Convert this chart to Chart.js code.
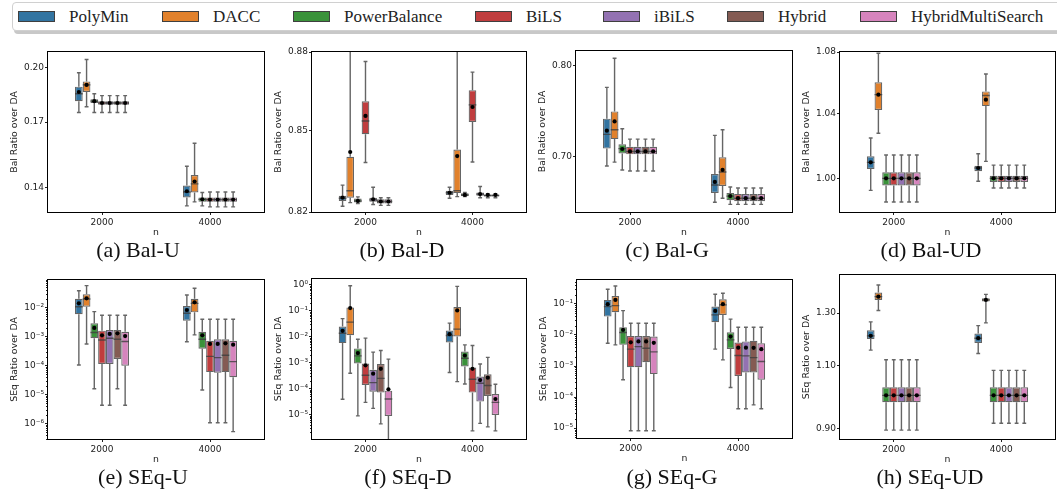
<!DOCTYPE html>
<html>
<head>
<meta charset="utf-8">
<script src="https://cdn.jsdelivr.net/npm/chart.js@4.4.0/dist/chart.umd.min.js"></script>
<style>
  body { margin: 0; width: 1057px; height: 496px; background: #fff; position: relative; overflow: hidden; font-family: "Liberation Serif", serif; }
  .leg { position: absolute; left: 12px; top: 2px; width: 1060px; height: 27px; border: 1px solid #d0d0d0; border-radius: 4px; box-shadow: 2px 3px 0 #c8c8c8; background: #fff; }
  .item { position: absolute; top: 0; height: 27px; display: flex; align-items: center; font-size: 17px; color: #222; white-space: nowrap; }
  .sw { width: 35px; height: 9px; border: 1px solid #3f3f3f; margin-right: 14px; }
  .cap { position: absolute; width: 200px; text-align: center; font-size: 22px; line-height: 22px; color: #111; }
  canvas { position: absolute; }
</style>
</head>
<body>
<div class="leg" id="legend"></div>

<script>
const categories = ['2000', '4000'];
const methods = ['PolyMin', 'DACC', 'PowerBalance', 'BiLS', 'iBiLS', 'Hybrid', 'HybridMultiSearch'];
const colors = ['#3274a1', '#e1812c', '#3a923a', '#c03d3e', '#9372b2', '#845b53', '#d684bd'];

// one row per method: [lo, q1, median, q3, hi, mean] at n=2000, then at n=4000
const balU = [
  [[0.175, 0.181, 0.185, 0.189, 0.197, 0.186], [0.1324, 0.1358, 0.1380, 0.1407, 0.149, 0.1383]],
  [[0.178, 0.186, 0.190, 0.192, 0.205, 0.190], [0.134, 0.1378, 0.1414, 0.1452, 0.1596, 0.1424]],
  [[0.175, 0.180, 0.181, 0.182, 0.185, 0.181], [0.1324, 0.134, 0.135, 0.1358, 0.1378, 0.135]],
  [[0.175, 0.179, 0.180, 0.181, 0.184, 0.180], [0.132, 0.134, 0.1349, 0.1358, 0.138, 0.1349]],
  [[0.175, 0.179, 0.180, 0.181, 0.184, 0.180], [0.132, 0.134, 0.1349, 0.1358, 0.138, 0.1349]],
  [[0.175, 0.179, 0.180, 0.181, 0.184, 0.180], [0.132, 0.134, 0.1349, 0.1358, 0.138, 0.1349]],
  [[0.175, 0.179, 0.180, 0.181, 0.184, 0.180], [0.132, 0.134, 0.1349, 0.1358, 0.138, 0.1349]]
];
const balD = [
  [[0.8221, 0.8240, 0.8250, 0.8259, 0.8298, 0.8252], [0.8250, 0.8262, 0.8270, 0.8277, 0.8290, 0.8270]],
  [[0.8234, 0.8252, 0.8277, 0.8402, 0.95, 0.8420], [0.8256, 0.8269, 0.8277, 0.8429, 0.95, 0.8405]],
  [[0.8231, 0.8234, 0.8240, 0.8249, 0.8255, 0.8240], [0.8256, 0.8257, 0.8262, 0.8268, 0.8271, 0.8262]],
  [[0.8381, 0.8486, 0.8536, 0.8611, 0.8763, 0.8555], [0.8383, 0.8532, 0.8597, 0.8653, 0.8722, 0.8589]],
  [[0.8227, 0.8237, 0.8244, 0.8252, 0.8290, 0.8246], [0.8252, 0.8259, 0.8265, 0.8271, 0.8293, 0.8265]],
  [[0.8224, 0.8231, 0.8238, 0.8246, 0.8252, 0.8238], [0.8252, 0.8256, 0.8260, 0.8264, 0.8266, 0.8262]],
  [[0.8224, 0.8231, 0.8238, 0.8246, 0.8252, 0.8238], [0.8252, 0.8256, 0.8260, 0.8264, 0.8266, 0.8262]]
];
const balG = [
  [[0.690, 0.708, 0.723, 0.740, 0.775, 0.727], [0.654, 0.663, 0.671, 0.682, 0.722, 0.674]],
  [[0.694, 0.718, 0.728, 0.748, 0.809, 0.737], [0.658, 0.670, 0.684, 0.699, 0.728, 0.686]],
  [[0.686, 0.703, 0.708, 0.7125, 0.729, 0.7076], [0.652, 0.656, 0.660, 0.663, 0.669, 0.660]],
  [[0.685, 0.702, 0.705, 0.710, 0.718, 0.705], [0.652, 0.655, 0.658, 0.662, 0.668, 0.658]],
  [[0.685, 0.702, 0.705, 0.710, 0.718, 0.705], [0.652, 0.655, 0.658, 0.662, 0.668, 0.658]],
  [[0.685, 0.702, 0.705, 0.710, 0.718, 0.705], [0.652, 0.655, 0.658, 0.662, 0.668, 0.658]],
  [[0.685, 0.702, 0.705, 0.710, 0.718, 0.705], [0.652, 0.655, 0.658, 0.662, 0.668, 0.658]]
];
const balUD = [
  [[0.9927, 1.0057, 1.0098, 1.0135, 1.0249, 1.0098], [0.9982, 1.0043, 1.0063, 1.0077, 1.0151, 1.0063]],
  [[1.0278, 1.0425, 1.0523, 1.0602, 1.0792, 1.0523], [1.0104, 1.0450, 1.0518, 1.0544, 1.0656, 1.0491]],
  [[0.9857, 0.9957, 1.0, 1.0037, 1.0143, 1.0], [0.9941, 0.9978, 1.0, 1.0016, 1.0081, 1.0]],
  [[0.9857, 0.9957, 1.0, 1.0037, 1.0143, 1.0], [0.9941, 0.9978, 1.0, 1.0016, 1.0081, 1.0]],
  [[0.9857, 0.9957, 1.0, 1.0037, 1.0143, 1.0], [0.9941, 0.9978, 1.0, 1.0016, 1.0081, 1.0]],
  [[0.9857, 0.9957, 1.0, 1.0037, 1.0143, 1.0], [0.9941, 0.9978, 1.0, 1.0016, 1.0081, 1.0]],
  [[0.9857, 0.9957, 1.0, 1.0037, 1.0143, 1.0], [0.9941, 0.9978, 1.0, 1.0016, 1.0081, 1.0]]
];
const seqU = [
  [[1.05e-4, 5.9e-3, 1.07e-2, 2.04e-2, 3.85e-2, 1.41e-2], [6.7e-4, 3.56e-3, 6.4e-3, 1.14e-2, 2.74e-2, 8.3e-3]],
  [[5.6e-4, 1.08e-2, 2.0e-2, 2.88e-2, 5.74e-2, 2.1e-2], [1.15e-3, 6.9e-3, 1.41e-2, 2.04e-2, 4.65e-2, 1.53e-2]],
  [[1.6e-5, 8.8e-4, 1.4e-3, 2.9e-3, 7.3e-3, 2.0e-3], [1.45e-5, 3.85e-4, 8.1e-4, 1.48e-3, 4.0e-3, 1.11e-3]],
  [[4.3e-6, 1.15e-4, 7.7e-4, 1.61e-3, 5.5e-3, 1.11e-3], [1.07e-6, 6.0e-5, 2.1e-4, 7.2e-4, 4.0e-3, 5.6e-4]],
  [[4.3e-6, 1.15e-4, 8.8e-4, 1.7e-3, 5.5e-3, 1.24e-3], [1.07e-6, 5.75e-5, 1.9e-4, 8.1e-4, 4.0e-3, 5.6e-4]],
  [[1.6e-5, 1.7e-4, 8.1e-4, 1.7e-3, 5.5e-3, 1.3e-3], [1.07e-6, 6.0e-5, 2.3e-4, 8.1e-4, 4.0e-3, 5.9e-4]],
  [[4.3e-6, 1.0e-4, 6.8e-4, 1.48e-3, 5.5e-3, 1.05e-3], [5.3e-7, 4.0e-5, 1.38e-4, 7.2e-4, 4.0e-3, 5.3e-4]]
];
const seqD = [
  [[3.8e-5, 5.6e-3, 1.35e-2, 2.45e-2, 4.9e-2, 1.66e-2], [4.1e-4, 5.9e-3, 1.1e-2, 1.72e-2, 3.3e-2, 1.24e-2]],
  [[3.85e-4, 1.13e-2, 3.6e-2, 1.33e-1, 9.1e-1, 1.26e-1], [1.83e-4, 1.0e-2, 1.93e-2, 1.37e-1, 8.6e-1, 1.02e-1]],
  [[8.7e-6, 9.1e-4, 1.8e-3, 3.5e-3, 7.9e-3, 2.3e-3], [1.48e-4, 7.0e-4, 1.46e-3, 2.65e-3, 4.8e-3, 1.86e-3]],
  [[2.9e-5, 1.36e-4, 3.2e-4, 9.1e-4, 8.7e-3, 7.8e-4], [2.3e-6, 6.9e-5, 2.25e-4, 6.4e-4, 4.5e-3, 5.7e-4]],
  [[1.7e-5, 7.5e-5, 1.67e-4, 5.2e-4, 2.5e-3, 3.7e-4], [4.5e-6, 3.1e-5, 1.58e-4, 2.86e-4, 8.8e-4, 2.1e-4]],
  [[4.3e-6, 6.9e-5, 2.45e-4, 8.8e-4, 2.9e-3, 5.7e-4], [3.3e-6, 5.1e-5, 1.29e-4, 3.5e-4, 1.58e-3, 2.6e-4]],
  [[3.0e-7, 8.7e-6, 3.9e-5, 8.2e-5, 1.35e-3, 9.3e-5], [2.3e-6, 9.4e-6, 2.9e-5, 6.1e-5, 1.45e-4, 3.9e-5]]
];
const seqG = [
  [[5.4e-3, 3.9e-2, 8.2e-2, 1.35e-1, 2.96e-1, 9.8e-2], [3.5e-3, 2.57e-2, 4.43e-2, 8.2e-2, 2.05e-1, 5.96e-2]],
  [[4.8e-3, 5.4e-2, 8.8e-2, 1.81e-1, 3.8e-1, 1.35e-1], [1.58e-3, 4.43e-2, 9.3e-2, 1.41e-1, 2.2e-1, 9.8e-2]],
  [[3.6e-4, 4.8e-3, 1.2e-2, 1.78e-2, 6.1e-2, 1.46e-2], [2.04e-4, 3.56e-3, 6.95e-3, 1.23e-2, 3.24e-2, 8.9e-3]],
  [[8.2e-6, 9.1e-4, 3.5e-3, 9.3e-3, 2.39e-2, 5.8e-3], [4.2e-5, 4.8e-4, 2.18e-3, 5.7e-3, 1.78e-2, 3.9e-3]],
  [[8.2e-6, 9.1e-4, 4.2e-3, 9.3e-3, 2.39e-2, 6.2e-3], [4.2e-5, 6.2e-4, 2.12e-3, 6.2e-3, 1.78e-2, 3.9e-3]],
  [[8.2e-6, 1.33e-3, 3.75e-3, 9.3e-3, 2.39e-2, 6.2e-3], [5.6e-5, 6.2e-4, 1.87e-3, 6.5e-3, 1.78e-2, 3.85e-3]],
  [[8.2e-6, 5.5e-4, 2.86e-3, 8.9e-3, 2.39e-2, 5.6e-3], [4.2e-5, 3.6e-4, 1.4e-3, 5.4e-3, 1.78e-2, 3.5e-3]]
];
const seqUD = [
  [[1.155, 1.197, 1.209, 1.231, 1.264, 1.209], [1.143, 1.182, 1.200, 1.218, 1.249, 1.200]],
  [[1.311, 1.356, 1.370, 1.388, 1.422, 1.370], [1.260, 1.349, 1.356, 1.363, 1.380, 1.356]],
  [[0.895, 0.978, 1.0, 1.026, 1.120, 1.0], [0.915, 0.978, 1.0, 1.026, 1.083, 1.0]],
  [[0.895, 0.978, 1.0, 1.026, 1.120, 1.0], [0.915, 0.978, 1.0, 1.026, 1.083, 1.0]],
  [[0.895, 0.978, 1.0, 1.026, 1.120, 1.0], [0.915, 0.978, 1.0, 1.026, 1.083, 1.0]],
  [[0.895, 0.978, 1.0, 1.026, 1.120, 1.0], [0.915, 0.978, 1.0, 1.026, 1.083, 1.0]],
  [[0.895, 0.978, 1.0, 1.026, 1.120, 1.0], [0.915, 0.978, 1.0, 1.026, 1.083, 1.0]]
];

// y tick values and labels
const balUTicks = [0.14, 0.17, 0.20];
const balUTickLabels = ['0.14', '0.17', '0.20'];
const balDTicks = [0.82, 0.85, 0.88];
const balDTickLabels = ['0.82', '0.85', '0.88'];
const balGTicks = [0.70, 0.80];
const balGTickLabels = ['0.70', '0.80'];
const balUDTicks = [1.00, 1.04, 1.08];
const balUDTickLabels = ['1.00', '1.04', '1.08'];
const seqUTicks = [1e-6, 1e-5, 1e-4, 1e-3, 1e-2];
const seqUTickLabels = ['10⁻⁶', '10⁻⁵', '10⁻⁴', '10⁻³', '10⁻²'];
const seqDTicks = [1e-5, 1e-4, 1e-3, 1e-2, 1e-1, 1];
const seqDTickLabels = ['10⁻⁵', '10⁻⁴', '10⁻³', '10⁻²', '10⁻¹', '10⁰'];
const seqGTicks = [1e-5, 1e-4, 1e-3, 1e-2, 1e-1];
const seqGTickLabels = ['10⁻⁵', '10⁻⁴', '10⁻³', '10⁻²', '10⁻¹'];
const seqUDTicks = [0.90, 1.10, 1.30];
const seqUDTickLabels = ['0.90', '1.10', '1.30'];

// legend
const legendX = [18, 162, 293, 475, 603, 727, 860];
const legend = document.getElementById('legend');
methods.forEach((m, i) => {
  const it = document.createElement('div');
  it.className = 'item';
  it.style.left = (legendX[i] - 13) + 'px';
  it.innerHTML = '<div class="sw" style="background:' + colors[i] + '"></div><span>' + m + '</span>';
  legend.appendChild(it);
});

const edge = 'rgba(63,63,63,0.8)';

// whiskers, caps, medians, means and the frame, all placed through the chart scales
const boxPlugin = {
  id: 'boxes',
  afterDatasetsDraw(chart) {
    const { ctx, chartArea: a } = chart;
    const y = chart.scales.y;
    ctx.save();
    ctx.beginPath();
    ctx.rect(a.left, a.top, a.right - a.left, a.bottom - a.top);
    ctx.clip();
    chart.data.datasets.forEach((ds, di) => {
      chart.getDatasetMeta(di).data.forEach((bar, i) => {
        const [lo, q1, med, q3, hi, mean] = ds.stats[i];
        const x = bar.x, half = bar.width / 2, cap = bar.width / 4;
        const pLo = y.getPixelForValue(lo), pQ1 = y.getPixelForValue(q1);
        const pQ3 = y.getPixelForValue(q3), pHi = y.getPixelForValue(hi);
        const pMed = y.getPixelForValue(med);
        ctx.strokeStyle = edge;
        ctx.lineWidth = 1.4;
        ctx.beginPath();
        ctx.moveTo(x, pQ3); ctx.lineTo(x, pHi);
        ctx.moveTo(x - cap, pHi); ctx.lineTo(x + cap, pHi);
        ctx.moveTo(x, pQ1); ctx.lineTo(x, pLo);
        ctx.moveTo(x - cap, pLo); ctx.lineTo(x + cap, pLo);
        ctx.moveTo(x - half, pMed); ctx.lineTo(x + half, pMed);
        ctx.stroke();
        ctx.fillStyle = '#000';
        ctx.beginPath();
        ctx.arc(x, y.getPixelForValue(mean), 2.1, 0, Math.PI * 2);
        ctx.fill();
      });
    });
    ctx.restore();

    ctx.save();
    // minor log ticks
    if (chart.options.minorTicks) {
      ctx.strokeStyle = '#222';
      ctx.lineWidth = 1;
      ctx.beginPath();
      const d0 = Math.floor(Math.log10(y.min)), d1 = Math.ceil(Math.log10(y.max));
      for (let d = d0; d <= d1; d++) {
        for (let k = 2; k <= 9; k++) {
          const v = k * Math.pow(10, d);
          if (v < y.min || v > y.max) continue;
          const py = Math.round(y.getPixelForValue(v)) + 0.5;
          ctx.moveTo(a.left - 2, py); ctx.lineTo(a.left, py);
        }
      }
      ctx.stroke();
    }
    ctx.strokeStyle = '#000';
    ctx.lineWidth = 1;
    ctx.strokeRect(a.left - 0.5, a.top - 0.5, a.right - a.left + 1, a.bottom - a.top + 1);
    ctx.restore();
  }
};

const panels = [
  { data: balU, ticks: balUTicks, labels: balUTickLabels, min: 0.130, max: 0.2096, title: 'Bal Ratio over DA', box: [48, 52, 264, 212], caption: '(a) Bal-U', capX: 138, capY: 239 },
  { data: balD, ticks: balDTicks, labels: balDTickLabels, min: 0.82, max: 0.88, title: 'Bal Ratio over DA', box: [312, 52, 526, 212], caption: '(b) Bal-D', capX: 402, capY: 239 },
  { data: balG, ticks: balGTicks, labels: balGTickLabels, min: 0.6447, max: 0.8178, title: 'Bal Ratio over DA', box: [576, 51, 792, 212], caption: '(c) Bal-G', capX: 667, capY: 239 },
  { data: balUD, ticks: balUDTicks, labels: balUDTickLabels, min: 0.9797, max: 1.08, title: 'Bal Ratio over DA', box: [840, 52, 1055, 212], caption: '(d) Bal-UD', capX: 931, capY: 239 },
  { data: seqU, ticks: seqUTicks, labels: seqUTickLabels, min: 2.96e-7, max: 0.09, title: 'SEq Ratio over DA', box: [48, 280, 264, 439], caption: '(e) SEq-U', capX: 143, capY: 466, minor: true },
  { data: seqD, ticks: seqDTicks, labels: seqDTickLabels, min: 1.12e-6, max: 1.66, title: 'SEq Ratio over DA', box: [312, 279, 526, 439], caption: '(f) SEq-D', capX: 408, capY: 466, minor: true },
  { data: seqG, ticks: seqGTicks, labels: seqGTickLabels, min: 4.8e-6, max: 0.59, title: 'SEq Ratio over DA', box: [577, 280, 792, 438], caption: '(g) SEq-G', capX: 672, capY: 466, minor: true },
  { data: seqUD, ticks: seqUDTicks, labels: seqUDTickLabels, min: 0.873, max: 1.468, title: 'SEq Ratio over DA', box: [840, 275, 1055, 439], caption: '(h) SEq-UD', capX: 930, capY: 466 }
];

const axisLeft = 48, padTop = 8, padRight = 2, axisBottom = 30;
const tickFont = { family: 'DejaVu Sans', size: 9 };
const titleFont = { family: 'DejaVu Sans', size: 9.3 };

panels.forEach(p => {
  const [l, t, r, b] = p.box;
  const canvas = document.createElement('canvas');
  canvas.width = (r - l) + axisLeft + padRight;
  canvas.height = (b - t) + padTop + axisBottom;
  canvas.style.left = (l - axisLeft) + 'px';
  canvas.style.top = (t - padTop) + 'px';
  document.body.appendChild(canvas);

  const cap = document.createElement('div');
  cap.className = 'cap';
  cap.style.left = (p.capX - 100) + 'px';
  cap.style.top = p.capY + 'px';
  cap.textContent = p.caption;
  document.body.appendChild(cap);

  new Chart(canvas.getContext('2d'), {
    type: 'bar',
    data: {
      labels: categories,
      datasets: methods.map((m, i) => ({
        label: m,
        data: p.data[i].map(s => [s[1], s[3]]),
        stats: p.data[i],
        backgroundColor: colors[i],
        borderColor: edge,
        borderWidth: 1.2,
        borderSkipped: false
      }))
    },
    options: {
      responsive: false,
      animation: false,
      devicePixelRatio: 1,
      minorTicks: !!p.minor,
      layout: { padding: { left: 0, top: padTop, right: padRight, bottom: 0 } },
      datasets: { bar: { categoryPercentage: 0.5, barPercentage: 1.0 } },
      plugins: { legend: { display: false }, tooltip: { enabled: false } },
      scales: {
        x: {
          type: 'category',
          offset: true,
          afterFit: s => { s.height = axisBottom; },
          grid: { offset: false, drawOnChartArea: false, tickLength: 3, color: '#222' },
          border: { display: false },
          ticks: { font: tickFont, color: '#222', padding: 2, maxRotation: 0 },
          title: { display: true, text: 'n', font: titleFont, color: '#222', padding: { top: 0, bottom: 4 } }
        },
        y: {
          type: 'logarithmic',
          min: p.min,
          max: p.max,
          afterFit: s => { s.width = axisLeft; },
          afterBuildTicks: s => { s.ticks = p.ticks.map(v => ({ value: v })); },
          grid: { drawOnChartArea: false, tickLength: 3, color: '#222' },
          border: { display: false },
          ticks: { font: tickFont, color: '#222', padding: 1, autoSkip: false, callback: (v, i) => p.labels[i] },
          title: { display: true, text: p.title, font: titleFont, color: '#222', padding: { top: 9, bottom: 0 } }
        }
      }
    },
    plugins: [boxPlugin]
  });
});
</script>
</body>
</html>
